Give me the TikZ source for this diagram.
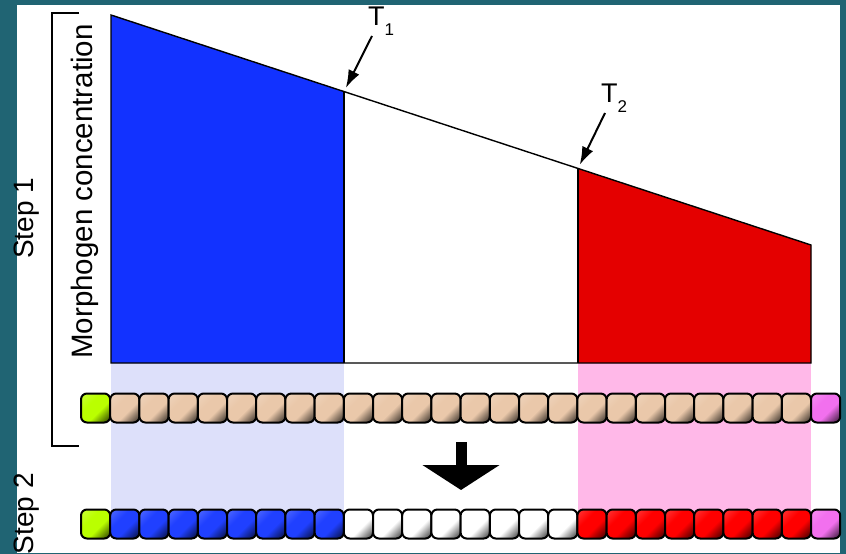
\documentclass[tikz,border=0pt]{standalone}
\usepackage{fontspec}
\setmainfont{Liberation Sans}
\usepackage{xcolor}
\usetikzlibrary{positioning,arrows.meta}

\definecolor{slate}{RGB}{32,100,115}
\definecolor{gradblue}{RGB}{18,50,255}
\definecolor{gradred}{RGB}{228,0,0}
\definecolor{bandblue}{RGB}{221,224,250}
\definecolor{bandpink}{RGB}{255,184,232}
\definecolor{lime}{RGB}{186,255,0}
\definecolor{tan}{RGB}{234,200,170}
\definecolor{orchid}{RGB}{242,112,238}
\definecolor{cellblue}{RGB}{32,64,255}
\definecolor{cellred}{RGB}{255,0,0}
\colorlet{beadlo}{black}
\colorlet{beadmid}{gray}
\colorlet{beadhi}{white}
\pgfdeclareverticalshading[beadlo,beadmid,beadhi]{beadshade}{100bp}{%
  color(0bp)=(beadlo); color(22bp)=(beadlo); color(42bp)=(beadmid);
  color(62bp)=(beadmid); color(78bp)=(beadhi); color(100bp)=(beadhi)}

\begin{document}
\begin{tikzpicture}[
  x=1pt, y=-1pt,
  bead/.style={draw, line width=2pt, rounded corners=6pt, inner sep=0pt, outer sep=0pt,
               minimum width=29.2pt, minimum height=29pt,
               /utils/exec={\colorlet{beadmid}{#1}\colorlet{beadlo}{#1!40!black}%
                            \colorlet{beadhi}{#1!85!white}},
               shading=beadshade, shading angle=45},
  outline/.style={draw=black, line width=1.4pt, line join=miter},
  lbl/.style={inner sep=0pt, font=\fontsize{28}{30}\selectfont},
  tlbl/.style={inner sep=0pt, font=\fontsize{27}{29}\selectfont, anchor=base west},
  arr/.style={-{Latex[length=18pt,width=12pt]}, line width=2pt, shorten >=4pt},
  bigarr/.style={-{Triangle[length=25pt,width=76pt]}, line width=11pt}]

\useasboundingbox (0,0) rectangle (846,554);
\fill[slate] (0,0) rectangle (846,554);
\fill[white] (17,5) rectangle (840,553);

% gradient corners
\coordinate (g0) at (111,15);
\coordinate (g0b) at (111,363);
\coordinate (t1) at (344,91.6);
\coordinate (t1b) at (344,363);
\coordinate (t2) at (578,168.4);
\coordinate (t2b) at (578,363);
\coordinate (g3) at (811,245);
\coordinate (g3b) at (811,363);

% shaded bands behind the cells
\fill[bandblue] (g0b) rectangle (344,524);
\fill[bandpink] (t2b) rectangle (811,524);

% morphogen profile
\fill[gradblue] (g0) -- (t1) -- (t1b) -- (g0b) -- cycle;
\fill[gradred] (t2) -- (g3) -- (g3b) -- (t2b) -- cycle;
\draw[outline] (g0) -- (g3) -- (g3b) -- (g0b) -- cycle;
\draw[outline] (t1) -- (t1b);
\draw[outline] (t2) -- (t2b);

% thresholds
\node[tlbl] (T1) at (368,25) {T\raisebox{-10pt}{\fontsize{17}{18}\selectfont 1}};
\node[tlbl] (T2) at (601,102) {T\raisebox{-10pt}{\fontsize{17}{18}\selectfont 2}};
\coordinate (T1tail) at (372,36);
\coordinate (T2tail) at (605,113);
\draw[arr] (T1tail) -- (t1);
\draw[arr] (T2tail) -- (t2);

% row of cells before patterning
\node[bead=lime] (a0) at (95.6,408) {};
\foreach \i [count=\j from 0] in {1,...,24}
  \node[bead=tan, right=0pt of a\j] (a\i) {};
\node[bead=orchid, right=0pt of a24] (a25) {};

% row of cells after patterning
\node[bead=lime] (b0) at (95.6,524) {};
\foreach \i [count=\j from 0] in {1,...,8}
  \node[bead=cellblue, right=0pt of b\j] (b\i) {};
\foreach \i [count=\j from 8] in {9,...,16}
  \node[bead=white, right=0pt of b\j] (b\i) {};
\foreach \i [count=\j from 16] in {17,...,24}
  \node[bead=cellred, right=0pt of b\j] (b\i) {};
\node[bead=orchid, right=0pt of b24] (b25) {};

% step arrow
\coordinate (dtop) at (461,442);
\coordinate (dtip) at (461,490);
\draw[bigarr] (dtop) -- (dtip);

% bracket and labels
\draw[line width=2pt] (79,13) -- (52,13) -- (52,446) -- (79,446);
\node[lbl, rotate=90, anchor=base, font=\fontsize{29.5}{31}\selectfont] (conc) at (92,191.5) {Morphogen concentration};
\node[lbl, rotate=90, anchor=base] (s1) at (34,218.5) {Step 1};
\node[lbl, rotate=90, anchor=base east] (s2) at (34,473) {Step 2};
\end{tikzpicture}
\end{document}
